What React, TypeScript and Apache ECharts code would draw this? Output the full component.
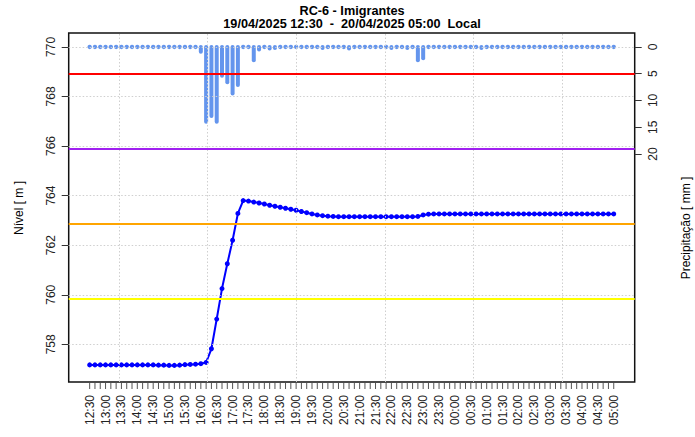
import React, { useEffect, useRef } from "react";
import * as echarts from "echarts";

// x tick labels every 30 min (one sample every 10 min, label every 3rd sample)
const tickLabels = [
  "12:30", "13:00", "13:30", "14:00", "14:30", "15:00", "15:30", "16:00", "16:30",
  "17:00", "17:30", "18:00", "18:30", "19:00", "19:30", "20:00", "20:30", "21:00",
  "21:30", "22:00", "22:30", "23:00", "23:30", "00:00", "00:30", "01:00", "01:30",
  "02:00", "02:30", "03:00", "03:30", "04:00", "04:30", "05:00",
];

// Nível [m], one value per 10 min, 19/04 12:30 .. 20/04 05:00
const nivel = [
  757.17, 757.17, 757.17, 757.17, 757.17, 757.17, 757.17, 757.17, 757.17, 757.17,
  757.17, 757.17, 757.17, 757.16, 757.16, 757.15, 757.15, 757.16, 757.18, 757.19,
  757.2, 757.22, 757.27, 757.82, 759.02, 760.25, 761.25, 762.2, 763.28, 763.8,
  763.78, 763.74, 763.7, 763.66, 763.61, 763.57, 763.53, 763.49, 763.45, 763.41,
  763.36, 763.31, 763.26, 763.22, 763.19, 763.17, 763.16, 763.15, 763.15, 763.15,
  763.15, 763.15, 763.15, 763.15, 763.15, 763.15, 763.15, 763.15, 763.15, 763.15,
  763.15, 763.15, 763.16, 763.22, 763.25, 763.26, 763.26, 763.26, 763.26, 763.26,
  763.26, 763.26, 763.26, 763.26, 763.26, 763.26, 763.26, 763.26, 763.26, 763.26,
  763.26, 763.26, 763.26, 763.26, 763.26, 763.26, 763.26, 763.26, 763.26, 763.26,
  763.26, 763.26, 763.26, 763.26, 763.26, 763.26, 763.26, 763.26, 763.26, 763.26,
];

// Precipitação [mm], one value per 10 min
const chuva = [
  0, 0, 0, 0, 0, 0, 0, 0, 0, 0,
  0, 0, 0, 0, 0, 0, 0, 0, 0, 0,
  0, 0.9, 14.0, 12.9, 14.0, 5.4, 6.6, 8.7, 7.1, 0,
  0, 2.5, 0.5, 0, 0.3, 0.2, 0, 0, 0, 0,
  0, 0, 0, 0, 0.2, 0, 0, 0, 0, 0.3,
  0, 0, 0, 0, 0, 0, 0, 0.2, 0, 0,
  0.2, 0, 2.5, 2.1, 0, 0, 0, 0, 0, 0,
  0, 0, 0, 0, 0.2, 0, 0, 0, 0, 0,
  0, 0, 0, 0, 0, 0, 0, 0, 0, 0,
  0, 0, 0, 0, 0, 0, 0, 0, 0, 0,
];

const nivelTicks = [758, 760, 762, 764, 766, 768, 770];
const chuvaTicks = [0, 5, 10, 15, 20];
const gridX = [5.5, 22.25, 39, 55.75, 72.5, 89.25];
const cotas = [768.9, 765.9, 762.87, 759.85];
const cotaCores = ["#FF0000", "#A020F0", "#FFA500", "#FFFF00"];

const X_MIN = -3.96;
const X_MAX = 102.96;
const Y_MIN = 756.48;
const Y_MAX = 770.56;
const FONT = "Liberation Sans, Arial, Helvetica, sans-serif";

export default function App() {
  const ref = useRef<HTMLDivElement>(null);
  useEffect(() => {
    if (!ref.current) return;
    const chart = echarts.init(ref.current, null, { renderer: "svg" });
    const option: any = {
      animation: false,
      backgroundColor: "#ffffff",
      textStyle: { fontFamily: FONT },
      grid: [
        {
          left: 68.7, top: 33, right: 60.3, bottom: 55,
          show: true, borderColor: "#111", borderWidth: 1.5, backgroundColor: "transparent",
        },
        // thin strip under the plot holding the 10-minute tick marks
        { left: 68.7, right: 60.3, top: 383, height: 6, show: false },
      ],
      xAxis: [
        {
          type: "value", gridIndex: 0, min: X_MIN, max: X_MAX,
          axisLine: { show: false, onZero: false },
          splitLine: { show: false },
          axisTick: { show: false },
          axisLabel: {
            show: true, rotate: 90, margin: 13, fontSize: 12, color: "#222", fontFamily: FONT,
            customValues: tickLabels.map((_, k) => k * 3),
            formatter: (v: number) => tickLabels[Math.round(v / 3)] ?? "",
          },
        },
        {
          type: "value", gridIndex: 1, min: X_MIN, max: X_MAX, show: false,
          axisLine: { show: false, onZero: false }, splitLine: { show: false },
          axisTick: { show: false }, axisLabel: { show: false },
        },
      ],
      yAxis: [
        {
          type: "value", gridIndex: 0, position: "left", min: Y_MIN, max: Y_MAX,
          axisLine: { show: false, onZero: false }, splitLine: { show: false },
          axisTick: { show: true, length: 7, customValues: nivelTicks, lineStyle: { color: "#333", width: 1 } },
          axisLabel: {
            show: true, rotate: 90, margin: 12, fontSize: 12, color: "#222", fontFamily: FONT,
            customValues: nivelTicks, formatter: (v: number) => String(v),
          },
        },
        {
          type: "value", gridIndex: 0, position: "right", inverse: true, min: -2.6, max: 62.6,
          axisLine: { show: false, onZero: false }, splitLine: { show: false },
          axisTick: { show: true, length: 7, customValues: chuvaTicks, lineStyle: { color: "#333", width: 1 } },
          axisLabel: {
            show: true, rotate: 90, margin: 12, fontSize: 12, color: "#222", fontFamily: FONT,
            customValues: chuvaTicks, formatter: (v: number) => String(v),
          },
        },
        {
          type: "value", gridIndex: 1, min: 0, max: 1, show: false,
          axisLine: { show: false }, splitLine: { show: false },
          axisTick: { show: false }, axisLabel: { show: false },
        },
      ],
      series: [
        {
          type: "line", xAxisIndex: 0, yAxisIndex: 0, data: [], z: 1, silent: true,
          markLine: {
            silent: true, symbol: "none", label: { show: false },
            lineStyle: { color: "#cfcfcf", width: 1, type: [1.5, 2] },
            data: [
              ...nivelTicks.map((v) => ({ yAxis: v })),
              ...gridX.map((v) => ({ xAxis: v })),
            ],
          },
        },
        {
          type: "line", xAxisIndex: 0, yAxisIndex: 0, data: [], z: 2, silent: true,
          markLine: {
            silent: true, symbol: "none", label: { show: false },
            data: cotas.map((v, i) => ({ yAxis: v, lineStyle: { color: cotaCores[i], width: 2, type: "solid" } })),
          },
        },
        {
          // x tick marks, one per sample (10 min)
          type: "bar", xAxisIndex: 1, yAxisIndex: 2, silent: true, z: 5,
          data: nivel.map((_, i) => [i, 1]),
          barWidth: 1,
          itemStyle: { color: "#555" },
        },
        {
          type: "custom", xAxisIndex: 0, yAxisIndex: 1, z: 3, silent: true,
          data: chuva.map((v, i) => [i, v]),
          encode: { x: 0, y: 1 },
          renderItem: (params: any, api: any) => {
            const x = api.value(0);
            const v = api.value(1);
            const p0 = api.coord([x, 0]);
            const p1 = api.coord([x, v]);
            const color = "#6495ED";
            if (v > 0) {
              return {
                type: "line",
                shape: { x1: p0[0], y1: p0[1], x2: p1[0], y2: p1[1] },
                style: { stroke: color, lineWidth: 4, lineCap: "round" },
              };
            }
            return { type: "circle", shape: { cx: p0[0], cy: p0[1], r: 2.2 }, style: { fill: color } };
          },
        },
        {
          type: "line", xAxisIndex: 0, yAxisIndex: 0, z: 4, silent: true,
          data: nivel.map((v, i) => [i, v]),
          symbol: "circle", symbolSize: 5, showSymbol: true,
          lineStyle: { color: "#0000FF", width: 2 },
          itemStyle: { color: "#0000FF" },
        },
      ],
      graphic: [
        {
          type: "text", x: 352, y: 11, silent: true,
          style: { text: "RC-6 - Imigrantes", align: "center", verticalAlign: "middle", fontSize: 12.7, fontWeight: "bold", fontFamily: FONT, fill: "#000" },
        },
        {
          type: "text", x: 352, y: 24, silent: true,
          style: { text: "19/04/2025 12:30  -  20/04/2025 05:00  Local", align: "center", verticalAlign: "middle", fontSize: 12.7, fontWeight: "bold", fontFamily: FONT, fill: "#000" },
        },
        {
          type: "text", x: 18.5, y: 208, rotation: Math.PI / 2, silent: true,
          style: { text: "Nível [ m ]", align: "center", verticalAlign: "middle", fontSize: 12, fontFamily: FONT, fill: "#000" },
        },
        {
          type: "text", x: 686, y: 228, rotation: Math.PI / 2, silent: true,
          style: { text: "Precipitação [ mm ]", align: "center", verticalAlign: "middle", fontSize: 12, fontFamily: FONT, fill: "#000" },
        },
      ],
    };
    chart.setOption(option);
    return () => chart.dispose();
  }, []);
  return (
    <div
      ref={ref}
      style={{ position: "fixed", left: 0, top: 0, width: 695, height: 437, background: "#fff" }}
    />
  );
}
